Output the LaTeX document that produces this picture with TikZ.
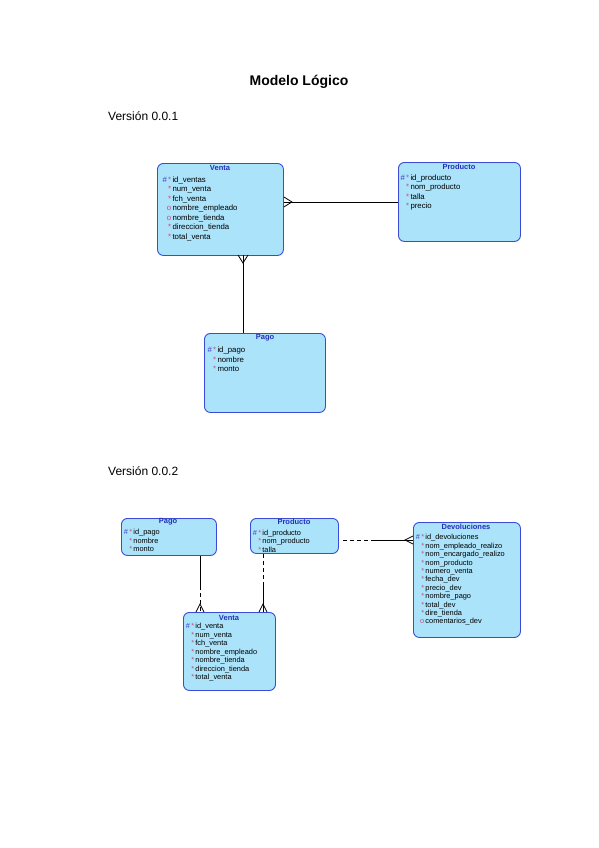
\documentclass[tikz,border=0pt]{standalone}
\usepackage{fontspec}
\setmainfont{Liberation Sans}
\usetikzlibrary{calc}
\definecolor{entfill}{HTML}{AAE3FA}
\definecolor{entdraw}{HTML}{3A4CD6}
\definecolor{titc}{HTML}{2530B8}
\definecolor{keyc}{HTML}{3A3AC8}
\definecolor{reqc}{HTML}{D0487A}
\newcommand\mkK{\textcolor{keyc}{\#}\,\textcolor{reqc}{*}}
\newcommand\mkR{\textcolor{reqc}{*}}
\newcommand\mkO{\textcolor{reqc}{o}}
\tikzset{
  ent/.style={draw=entdraw, fill=entfill, line width=0.9pt, rounded corners=6pt, anchor=north west, inner sep=0pt},
  etitle/.style={font=\fontsize{7.5}{8}\selectfont\bfseries, text=titc, inner sep=0pt},
  attrA/.style={font=\fontsize{7.8}{8}\selectfont, anchor=west, inner sep=0pt},
  attrB/.style={font=\fontsize{7.4}{8}\selectfont, anchor=west, inner sep=0pt},
  rel/.style={line width=0.8pt, black},
  reldash/.style={line width=0.8pt, black, dash pattern=on 4pt off 3pt},
}
\begin{document}
\begin{tikzpicture}[x=1pt,y=-1pt]
\useasboundingbox[fill=white] (0,0) rectangle (599,848);

\node[font=\fontsize{14}{16}\selectfont\bfseries] (title) at (299,82) {Modelo Lógico};
\node[font=\fontsize{12}{14}\selectfont, anchor=west, inner sep=0pt] (v1) at (108,116) {Versión 0.0.1};
\node[font=\fontsize{12}{14}\selectfont, anchor=west, inner sep=0pt] (v2) at (108,471) {Versión 0.0.2};

% ---------- Version 0.0.1 ----------
\node[ent, minimum width=126pt, minimum height=92pt] (venta) at (157,163) {};
\node[etitle] (venta-t) at (220,168) {Venta};
\foreach \mk/\nm [count=\i] in {\mkK/id\_ventas, \mkR/num\_venta, \mkR/fch\_venta, \mkO/nombre\_empleado, \mkO/nombre\_tienda, \mkR/direccion\_tienda, \mkR/total\_venta}
  \node[attrA] (venta-a\i) at (158,{180+9.5*(\i-1)}) {\makebox[13pt][r]{\mk}\,\nm};

\node[ent, minimum width=122pt, minimum height=79pt] (prod) at (398,162) {};
\node[etitle] (prod-t) at (459,167) {Producto};
\foreach \mk/\nm [count=\i] in {\mkK/id\_producto, \mkR/nom\_producto, \mkR/talla, \mkR/precio}
  \node[attrA] (prod-a\i) at (398,{178+9.6*(\i-1)}) {\makebox[11pt][r]{\mk}\,\nm};

\node[ent, minimum width=121pt, minimum height=79pt] (pago) at (204,333) {};
\node[etitle] (pago-t) at (265,338) {Pago};
\foreach \mk/\nm [count=\i] in {\mkK/id\_pago, \mkR/nombre, \mkR/monto}
  \node[attrA] (pago-a\i) at (205,{350+9.5*(\i-1)}) {\makebox[11pt][r]{\mk}\,\nm};

% Venta -- Producto
\coordinate (e1) at (venta.east |- prod.west);
\draw[rel] (prod.west) -- (e1);
\draw[rel] (e1) ++(0,-5) -- ($(e1)+(8,0)$) -- ++(-8,5);
% Venta -- Pago
\coordinate (e2) at (243,255);
\draw[rel] (e2 |- pago.north) -- (e2);
\draw[rel] (e2) ++(-5,0) -- ($(e2)+(0,8)$) -- ++(5,-8);

% ---------- Version 0.0.2 ----------
\node[ent, minimum width=95pt, minimum height=37pt] (pago2) at (121,518) {};
\node[etitle] (pago2-t) at (168,522) {Pago};
\foreach \mk/\nm [count=\i] in {\mkK/id\_pago, \mkR/nombre, \mkR/monto}
  \node[attrB] (pago2-a\i) at (122,{533+8*(\i-1)}) {\makebox[10pt][r]{\mk}\,\nm};

\node[ent, minimum width=88pt, minimum height=35pt] (prod2) at (250,518) {};
\node[etitle] (prod2-t) at (294,522) {Producto};
\foreach \mk/\nm [count=\i] in {\mkK/id\_producto, \mkR/nom\_producto, \mkR/talla}
  \node[attrB] (prod2-a\i) at (251,{534+8*(\i-1)}) {\makebox[10pt][r]{\mk}\,\nm};

\node[ent, minimum width=107pt, minimum height=115pt] (dev) at (413,522) {};
\node[etitle] (dev-t) at (466,527) {Devoluciones};
\foreach \mk/\nm [count=\i] in {\mkK/id\_devoluciones, \mkR/nom\_empleado\_realizo, \mkR/nom\_encargado\_realizo, \mkR/nom\_producto, \mkR/numero\_venta, \mkR/fecha\_dev, \mkR/precio\_dev, \mkR/nombre\_pago, \mkR/total\_dev, \mkR/dire\_tienda, \mkO/comentarios\_dev}
  \node[attrB] (dev-a\i) at (414,{538+8.4*(\i-1)}) {\makebox[10pt][r]{\mk}\,\nm};

\node[ent, minimum width=92pt, minimum height=78pt] (venta2) at (183,612) {};
\node[etitle] (venta2-t) at (229,618) {Venta};
\foreach \mk/\nm [count=\i] in {\mkK/id\_venta, \mkR/num\_venta, \mkR/fch\_venta, \mkR/nombre\_empleado, \mkR/nombre\_tienda, \mkR/direccion\_tienda, \mkR/total\_venta}
  \node[attrB] (venta2-a\i) at (184,{627+8.5*(\i-1)}) {\makebox[10pt][r]{\mk}\,\nm};

% Pago2 -- Venta2
\coordinate (e3) at (200,612);
\coordinate (m3) at (200,586);
\draw[rel] (e3 |- pago2.south) -- (m3);
\draw[reldash] (m3) -- (e3);
\draw[rel] (e3) ++(-4,0) -- ($(e3)+(0,-8)$) -- ++(4,8);
% Producto2 -- Venta2
\coordinate (e4) at (263,612);
\coordinate (m4) at (263,582);
\draw[reldash] (e4 |- prod2.south) -- (m4);
\draw[rel] (m4) -- (e4);
\draw[rel] (e4) ++(-4,0) -- ($(e4)+(0,-8)$) -- ++(4,8);
% Producto2 -- Devoluciones
\coordinate (e5) at (dev.west |- 0,540);
\coordinate (s5) at (prod2.east |- 0,540);
\coordinate (m5) at (375,540);
\draw[reldash] ($(s5)+(4,0)$) -- (m5);
\draw[rel] (m5) -- (e5);
\draw[rel] (e5) ++(0,-4) -- ($(e5)+(-8,0)$) -- ++(8,4);
\end{tikzpicture}
\end{document}
